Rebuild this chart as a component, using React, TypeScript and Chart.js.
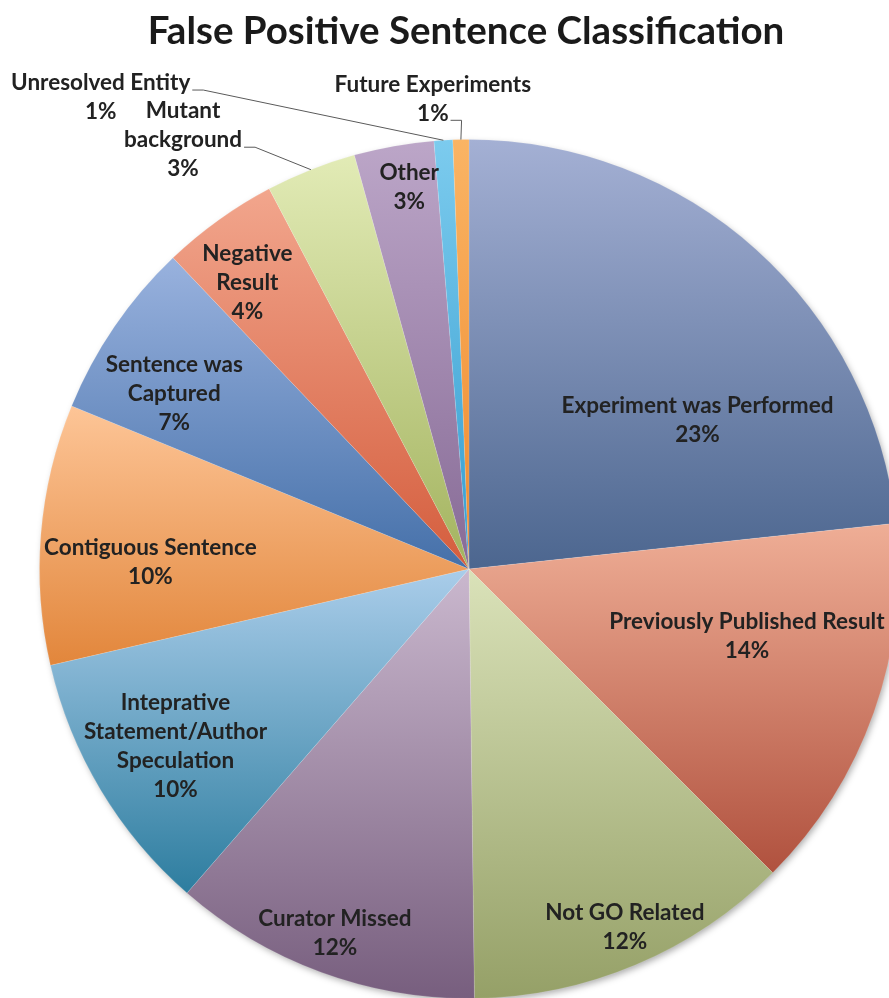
import React, { useEffect, useRef } from "react";
import { Chart, registerables } from "chart.js";

Chart.register(...registerables);

const chartTitle = "False Positive Sentence Classification";

const categories = [
  "Experiment was Performed",
  "Previously Published Result",
  "Not GO Related",
  "Curator Missed",
  "Inteprative Statement/Author Speculation",
  "Contiguous Sentence",
  "Sentence was Captured",
  "Negative Result",
  "Mutant background",
  "Other",
  "Unresolved Entity",
  "Future Experiments",
];

// share of false positive sentences (percent)
const shares = [23.3, 14.2, 12.3, 11.6, 10.0, 9.8, 6.7, 4.4, 3.4, 3.0, 0.7, 0.6];

// how each category label wraps on the picture
const labelLines = [
  ["Experiment was Performed"],
  ["Previously Published Result"],
  ["Not GO Related"],
  ["Curator Missed"],
  ["Inteprative", "Statement/Author", "Speculation"],
  ["Contiguous Sentence"],
  ["Sentence was", "Captured"],
  ["Negative", "Result"],
  ["Mutant", "background"],
  ["Other"],
  ["Unresolved Entity"],
  ["Future Experiments"],
];

const topColors = [
  "#a4b0d4", "#efae96", "#dae2b9", "#cab8ce", "#aacdea", "#fdc597",
  "#99b2de", "#f2a68d", "#e2ebb6", "#bca6c8", "#7ccbee", "#fab464",
];
const bottomColors = [
  "#4c668f", "#b0513e", "#95a067", "#775e7e", "#2d7d9f", "#e2863b",
  "#4570a9", "#d45d3d", "#a3b35f", "#876b96", "#359dcf", "#ef8a2e",
];

// label placement: polar angle (deg, clockwise from 12 o'clock) and radius fraction
const labelAngle = [56.9, 103.7, 156.5, 200.2, 238.9, 271.3, 300.8, 322.2, 326.3, 351.1, 322.0, 355.6];
const labelRadius = [0.635, 0.666, 0.91, 0.904, 0.798, 0.742, 0.799, 0.842, 1.2, 0.9, 1.393, 1.098];
// which text line a leader line leaves from (-1 = no leader)
const leaderFrom = [-1, -1, -1, -1, -1, -1, -1, -1, 1, -1, 0, 1];

const LINE_H = 29;
const LABEL_FONT = "bold 22.5px Lato, 'Open Sans', sans-serif";
const TITLE_FONT = "bold 38.5px Lato, 'Open Sans', sans-serif";

function sliceGradient(c: any) {
  const i = c.dataIndex ?? 0;
  if (c.type !== "data") return topColors[0];
  const chart = c.chart;
  const area = chart.chartArea;
  if (!area) return topColors[i];
  const cx = (area.left + area.right) / 2;
  const cy = (area.top + area.bottom) / 2;
  const R = Math.min(area.right - area.left, area.bottom - area.top) / 2;
  const vals: number[] = c.dataset.data;
  const total = vals.reduce((a, b) => a + b, 0);
  let before = 0;
  for (let k = 0; k < i; k++) before += vals[k];
  const a0 = -Math.PI / 2 + (2 * Math.PI * before) / total;
  const a1 = a0 + (2 * Math.PI * vals[i]) / total;
  const ys = [cy, cy + R * Math.sin(a0), cy + R * Math.sin(a1)];
  if (a0 <= Math.PI / 2 && a1 >= Math.PI / 2) ys.push(cy + R);
  if (a0 <= -Math.PI / 2 + 1e-6 || a1 >= (3 * Math.PI) / 2 - 1e-6) ys.push(cy - R);
  const y0 = Math.min(...ys);
  const y1 = Math.max(...ys);
  const g = chart.ctx.createLinearGradient(0, y0, 0, y1);
  g.addColorStop(0, topColors[i]);
  g.addColorStop(1, bottomColors[i]);
  return g;
}

const shadowPlugin = {
  id: "pieShadow",
  beforeDatasetsDraw(chart: any) {
    const meta = chart.getDatasetMeta(0);
    const arc = meta.data[0];
    if (!arc) return;
    const { x, y, outerRadius } = arc.getProps(["x", "y", "outerRadius"], true);
    const ctx = chart.ctx;
    ctx.save();
    ctx.shadowColor = "rgba(0,0,0,0.35)";
    ctx.shadowBlur = 7;
    ctx.shadowOffsetX = 2;
    ctx.shadowOffsetY = 3;
    ctx.fillStyle = "#ffffff";
    ctx.beginPath();
    ctx.arc(x, y, outerRadius - 1, 0, Math.PI * 2);
    ctx.fill();
    ctx.restore();
  },
};

const labelPlugin = {
  id: "pieLabels",
  afterDatasetsDraw(chart: any) {
    const ctx = chart.ctx;
    const meta = chart.getDatasetMeta(0);
    const vals: number[] = chart.data.datasets[0].data;
    const total = vals.reduce((a, b) => a + b, 0);
    ctx.save();
    ctx.font = LABEL_FONT;
    ctx.fillStyle = "#222222";
    ctx.strokeStyle = "#5a5a5a";
    ctx.lineWidth = 1;
    ctx.textAlign = "center";
    ctx.textBaseline = "middle";
    meta.data.forEach((arc: any, i: number) => {
      const { x, y, outerRadius, startAngle, endAngle } = arc.getProps(
        ["x", "y", "outerRadius", "startAngle", "endAngle"],
        true
      );
      const a = (labelAngle[i] * Math.PI) / 180;
      const r = outerRadius * labelRadius[i];
      const lx = x + r * Math.sin(a);
      const ly = y - r * Math.cos(a);
      const lines = [...labelLines[i], Math.round((vals[i] / total) * 100) + "%"];
      const n = lines.length;
      lines.forEach((t, j) => ctx.fillText(t, lx, ly + (j - (n - 1) / 2) * LINE_H));
      const j = leaderFrom[i];
      if (j >= 0) {
        const w = ctx.measureText(lines[j]).width;
        const sx = lx + w / 2 + 2;
        const sy = ly + (j - (n - 1) / 2) * LINE_H + 7;
        const mid = (startAngle + endAngle) / 2;
        const ex = x + outerRadius * Math.cos(mid);
        const ey = y + outerRadius * Math.sin(mid);
        ctx.beginPath();
        ctx.moveTo(sx, sy);
        ctx.lineTo(sx + 11, sy);
        ctx.lineTo(ex, ey);
        ctx.stroke();
      }
    });
    ctx.font = TITLE_FONT;
    ctx.fillStyle = "#1a1a1a";
    ctx.fillText(chartTitle, 466, 32);
    ctx.restore();
  },
};

export default function App() {
  const ref = useRef<HTMLCanvasElement | null>(null);
  useEffect(() => {
    if (!ref.current) return;
    const chart = new Chart(ref.current, {
      type: "pie",
      data: {
        labels: categories,
        datasets: [
          {
            data: shares,
            backgroundColor: sliceGradient as any,
            borderColor: "rgba(255,255,255,0.12)",
            borderWidth: 1,
            hoverBorderWidth: 1,
          },
        ],
      },
      options: {
        responsive: false,
        animation: false,
        devicePixelRatio: 1,
        events: [],
        layout: { padding: { left: 39, top: 139, right: 11, bottom: 11 } },
        plugins: { legend: { display: false }, tooltip: { enabled: false } },
      },
      plugins: [shadowPlugin, labelPlugin],
    });
    let alive = true;
    if ((document as any).fonts?.ready) {
      (document as any).fonts.ready.then(() => {
        if (alive) chart.draw();
      });
    }
    return () => {
      alive = false;
      chart.destroy();
    };
  }, []);
  return (
    <div
      style={{
        position: "fixed",
        left: 0,
        top: 0,
        width: 889,
        height: 998,
        overflow: "hidden",
        background: "#ffffff",
      }}
    >
      <canvas ref={ref} width={910} height={1010} style={{ position: "absolute", left: 0, top: 0 }} />
    </div>
  );
}
